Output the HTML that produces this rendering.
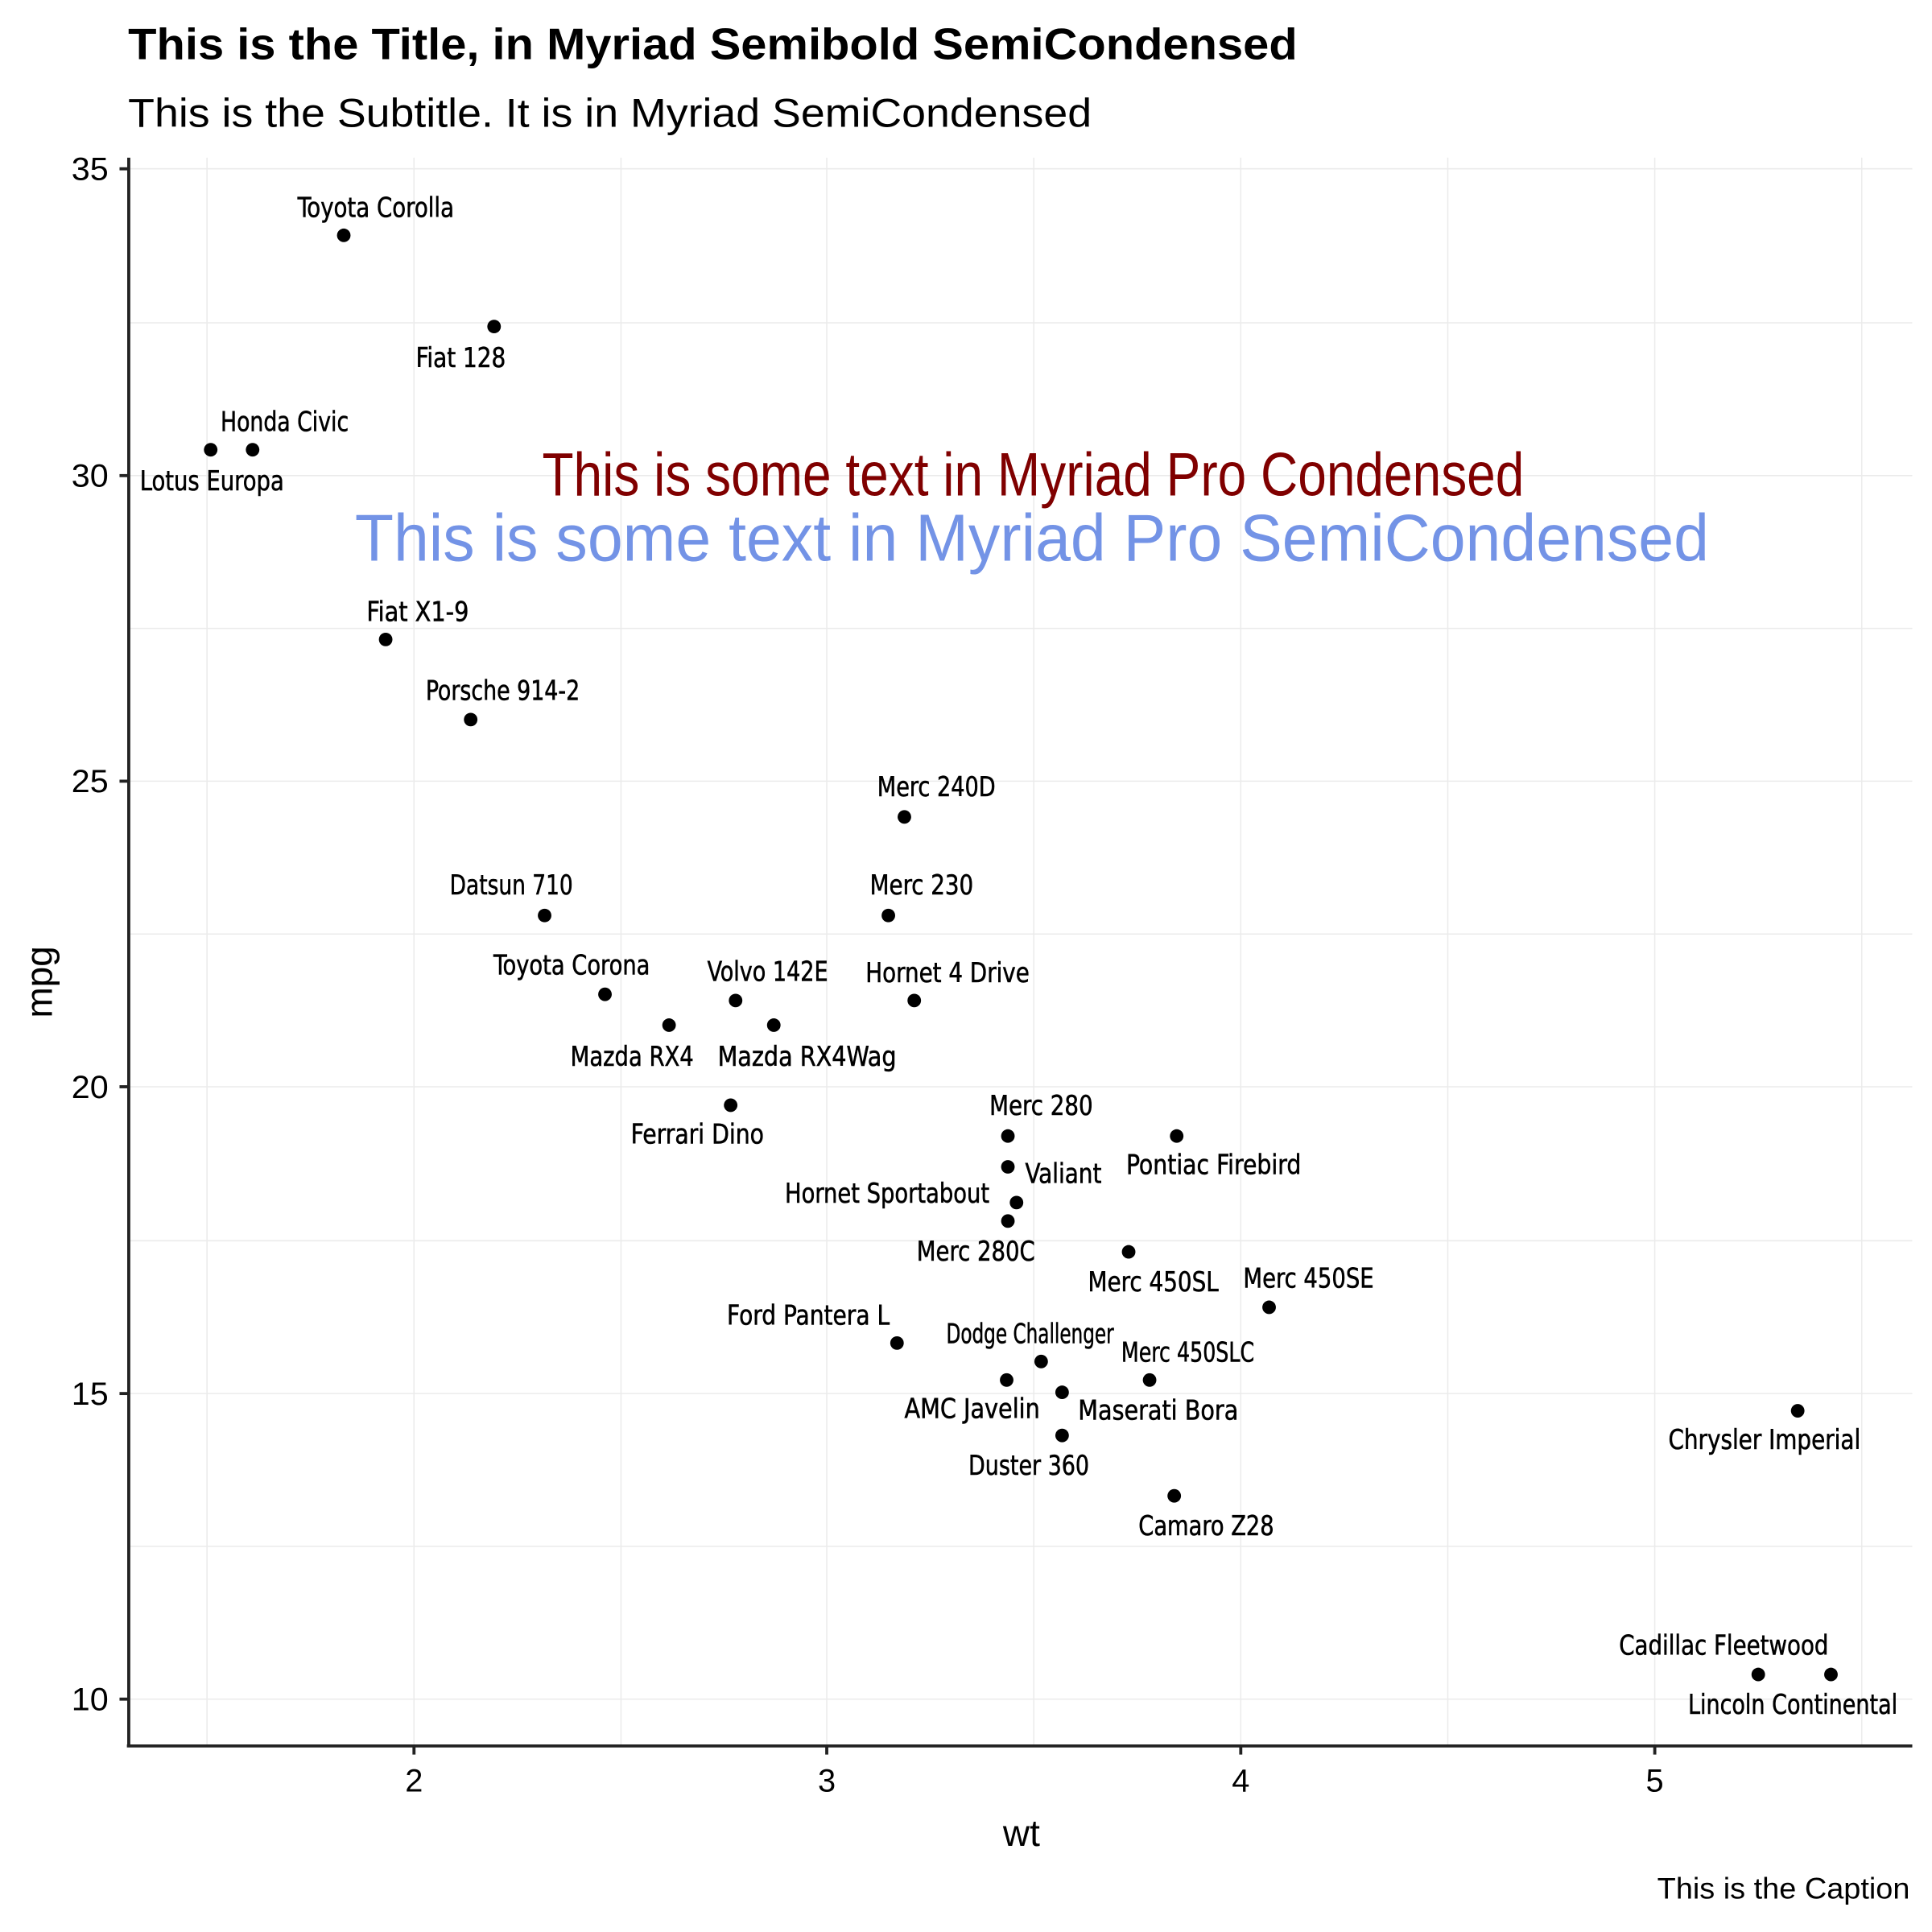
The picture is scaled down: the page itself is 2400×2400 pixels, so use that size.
<!DOCTYPE html>
<html><head><meta charset="utf-8"><style>
html,body{margin:0;padding:0;background:#fff}
svg{display:block}
.l{font-family:"DejaVu Sans Condensed","Liberation Sans",sans-serif;font-size:22px;fill:#000;stroke:#000;stroke-width:0.35;text-anchor:middle}
.t{font-family:"Liberation Sans",sans-serif;fill:#000}
</style></head><body>
<svg width="2400" height="2400" viewBox="0 0 1568 1568" xmlns="http://www.w3.org/2000/svg">
<rect width="1568" height="1568" fill="#fff"/>
<g stroke="#ebebeb" stroke-width="1">
<line x1="168" y1="128" x2="168" y2="1417"/><line x1="504" y1="128" x2="504" y2="1417"/><line x1="839" y1="128" x2="839" y2="1417"/><line x1="1175" y1="128" x2="1175" y2="1417"/><line x1="1511" y1="128" x2="1511" y2="1417"/>
<line x1="336" y1="128" x2="336" y2="1417"/><line x1="671" y1="128" x2="671" y2="1417"/><line x1="1007" y1="128" x2="1007" y2="1417"/><line x1="1343" y1="128" x2="1343" y2="1417"/>
<line x1="104" y1="137" x2="1552" y2="137"/><line x1="104" y1="262" x2="1552" y2="262"/><line x1="104" y1="386" x2="1552" y2="386"/><line x1="104" y1="510" x2="1552" y2="510"/><line x1="104" y1="634" x2="1552" y2="634"/><line x1="104" y1="758" x2="1552" y2="758"/><line x1="104" y1="882" x2="1552" y2="882"/><line x1="104" y1="1007" x2="1552" y2="1007"/><line x1="104" y1="1131" x2="1552" y2="1131"/><line x1="104" y1="1255" x2="1552" y2="1255"/><line x1="104" y1="1379" x2="1552" y2="1379"/>
</g>
<g stroke="#222" stroke-width="2.5" fill="none">
<line x1="104.5" y1="128" x2="104.5" y2="1418"/><line x1="103" y1="1417" x2="1552" y2="1417"/>
<line x1="97" y1="137" x2="104" y2="137"/><line x1="97" y1="386" x2="104" y2="386"/><line x1="97" y1="634" x2="104" y2="634"/><line x1="97" y1="882" x2="104" y2="882"/><line x1="97" y1="1131" x2="104" y2="1131"/><line x1="97" y1="1379" x2="104" y2="1379"/>
<line x1="336" y1="1417" x2="336" y2="1424"/><line x1="671" y1="1417" x2="671" y2="1424"/><line x1="1007" y1="1417" x2="1007" y2="1424"/><line x1="1343" y1="1417" x2="1343" y2="1424"/>
</g>
<g class="t" font-size="26" text-anchor="end">
<text x="88" y="146" textLength="30" lengthAdjust="spacingAndGlyphs">35</text><text x="88" y="395" textLength="30" lengthAdjust="spacingAndGlyphs">30</text><text x="88" y="643" textLength="30" lengthAdjust="spacingAndGlyphs">25</text><text x="88" y="891" textLength="30" lengthAdjust="spacingAndGlyphs">20</text><text x="88" y="1140" textLength="30" lengthAdjust="spacingAndGlyphs">15</text><text x="88" y="1388" textLength="30" lengthAdjust="spacingAndGlyphs">10</text>
</g>
<g class="t" font-size="26" text-anchor="middle">
<text x="336" y="1454">2</text><text x="671" y="1454">3</text><text x="1007" y="1454">4</text><text x="1343" y="1454">5</text>
<text x="829" y="1498" font-size="30">wt</text>
<text transform="translate(42,797) rotate(-90)" font-size="30">mpg</text>
</g>
<text class="t" x="104" y="48" font-size="36" font-weight="bold" textLength="949" lengthAdjust="spacingAndGlyphs">This is the Title, in Myriad Semibold SemiCondensed</text>
<text class="t" x="104" y="103" font-size="33" textLength="782" lengthAdjust="spacingAndGlyphs">This is the Subtitle. It is in Myriad SemiCondensed</text>
<text class="t" x="1550" y="1541" font-size="24" text-anchor="end" textLength="205" lengthAdjust="spacingAndGlyphs">This is the Caption</text>
<text x="440" y="402" font-family="Liberation Sans,sans-serif" font-size="50" fill="#800000" textLength="797" lengthAdjust="spacingAndGlyphs">This is some text in Myriad Pro Condensed</text>
<text x="288" y="455" font-family="Liberation Sans,sans-serif" font-size="54" fill="#7393e6" textLength="1099" lengthAdjust="spacingAndGlyphs">This is some text in Myriad Pro SemiCondensed</text>
<g fill="#000">
<circle cx="543" cy="832" r="5.5"/><circle cx="628" cy="832" r="5.5"/><circle cx="442" cy="743" r="5.5"/><circle cx="742" cy="812" r="5.5"/><circle cx="818" cy="947" r="5.5"/><circle cx="825" cy="976" r="5.5"/><circle cx="862" cy="1165" r="5.5"/><circle cx="734" cy="663" r="5.5"/><circle cx="721" cy="743" r="5.5"/><circle cx="818" cy="922" r="5.5"/><circle cx="818" cy="991" r="5.5"/><circle cx="1030" cy="1061" r="5.5"/><circle cx="916" cy="1016" r="5.5"/><circle cx="933" cy="1120" r="5.5"/><circle cx="1427" cy="1359" r="5.5"/><circle cx="1486" cy="1359" r="5.5"/><circle cx="1459" cy="1145" r="5.5"/><circle cx="401" cy="265" r="5.5"/><circle cx="205" cy="365" r="5.5"/><circle cx="279" cy="191" r="5.5"/><circle cx="491" cy="807" r="5.5"/><circle cx="845" cy="1105" r="5.5"/><circle cx="817" cy="1120" r="5.5"/><circle cx="953" cy="1214" r="5.5"/><circle cx="955" cy="922" r="5.5"/><circle cx="313" cy="519" r="5.5"/><circle cx="382" cy="584" r="5.5"/><circle cx="171" cy="365" r="5.5"/><circle cx="728" cy="1090" r="5.5"/><circle cx="593" cy="897" r="5.5"/><circle cx="862" cy="1130" r="5.5"/><circle cx="597" cy="812" r="5.5"/>
</g>
<g class="l">
<text x="305" y="176" textLength="127" lengthAdjust="spacingAndGlyphs">Toyota Corolla</text>
<text x="374" y="298" textLength="73" lengthAdjust="spacingAndGlyphs">Fiat 128</text>
<text x="231" y="350" textLength="104" lengthAdjust="spacingAndGlyphs">Honda Civic</text>
<text x="172" y="398" textLength="117" lengthAdjust="spacingAndGlyphs">Lotus Europa</text>
<text x="339" y="504" textLength="83" lengthAdjust="spacingAndGlyphs">Fiat X1-9</text>
<text x="408" y="568" textLength="125" lengthAdjust="spacingAndGlyphs">Porsche 914-2</text>
<text x="760" y="646" textLength="96" lengthAdjust="spacingAndGlyphs">Merc 240D</text>
<text x="415" y="726" textLength="100" lengthAdjust="spacingAndGlyphs">Datsun 710</text>
<text x="748" y="726" textLength="84" lengthAdjust="spacingAndGlyphs">Merc 230</text>
<text x="464" y="791" textLength="127" lengthAdjust="spacingAndGlyphs">Toyota Corona</text>
<text x="623" y="796" textLength="98" lengthAdjust="spacingAndGlyphs">Volvo 142E</text>
<text x="769" y="797" textLength="133" lengthAdjust="spacingAndGlyphs">Hornet 4 Drive</text>
<text x="513" y="865" textLength="100" lengthAdjust="spacingAndGlyphs">Mazda RX4</text>
<text x="655" y="865" textLength="145" lengthAdjust="spacingAndGlyphs">Mazda RX4Wag</text>
<text x="845" y="905" textLength="84" lengthAdjust="spacingAndGlyphs">Merc 280</text>
<text x="566" y="928" textLength="108" lengthAdjust="spacingAndGlyphs">Ferrari Dino</text>
<text x="985" y="953" textLength="142" lengthAdjust="spacingAndGlyphs">Pontiac Firebird</text>
<text x="863" y="960" textLength="62" lengthAdjust="spacingAndGlyphs">Valiant</text>
<text x="720" y="976" textLength="166" lengthAdjust="spacingAndGlyphs">Hornet Sportabout</text>
<text x="792" y="1023" textLength="96" lengthAdjust="spacingAndGlyphs">Merc 280C</text>
<text x="936" y="1048" textLength="106" lengthAdjust="spacingAndGlyphs">Merc 450SL</text>
<text x="1062" y="1045" textLength="106" lengthAdjust="spacingAndGlyphs">Merc 450SE</text>
<text x="656" y="1075" textLength="132" lengthAdjust="spacingAndGlyphs">Ford Pantera L</text>
<text x="836" y="1090" textLength="136" lengthAdjust="spacingAndGlyphs">Dodge Challenger</text>
<text x="964" y="1105" textLength="108" lengthAdjust="spacingAndGlyphs">Merc 450SLC</text>
<text x="789" y="1151" textLength="110" lengthAdjust="spacingAndGlyphs">AMC Javelin</text>
<text x="940" y="1152" textLength="130" lengthAdjust="spacingAndGlyphs">Maserati Bora</text>
<text x="1432" y="1176" textLength="156" lengthAdjust="spacingAndGlyphs">Chrysler Imperial</text>
<text x="835" y="1197" textLength="98" lengthAdjust="spacingAndGlyphs">Duster 360</text>
<text x="979" y="1246" textLength="110" lengthAdjust="spacingAndGlyphs">Camaro Z28</text>
<text x="1399" y="1343" textLength="170" lengthAdjust="spacingAndGlyphs">Cadillac Fleetwood</text>
<text x="1455" y="1391" textLength="170" lengthAdjust="spacingAndGlyphs">Lincoln Continental</text>
</g>
</svg>
</body></html>
